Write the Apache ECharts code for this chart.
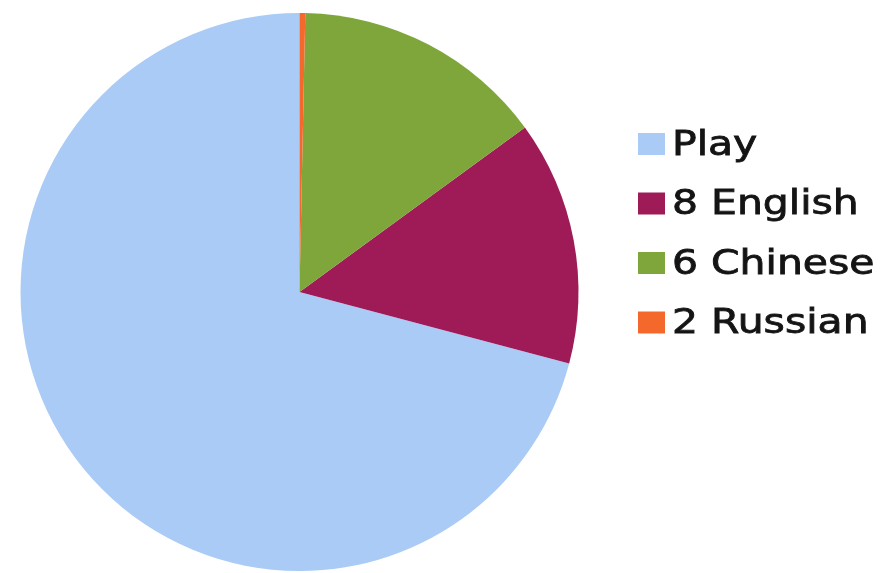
<!DOCTYPE html>
<html>
<head>
<meta charset="utf-8">
<style>
  html, body { margin: 0; padding: 0; background: #ffffff; }
  #chart { width: 884px; height: 573px; }
</style>
<script src="https://cdn.jsdelivr.net/npm/echarts@6/dist/echarts.min.js"></script>
</head>
<body>
<div id="chart"></div>
<script>
// Share of time per activity (percent)
const categories = ['Play', '8 English', '6 Chinese', '2 Russian'];
const shares = [70.88, 14.16, 14.64, 0.33];
const colors = ['#aacbf5', '#9e1b58', '#7ea63a', '#f4682c'];

const chart = echarts.init(document.getElementById('chart'), null, { renderer: 'canvas' });

// Legend drawn as graphic items so the text can be widened horizontally
const legendLeft = 638;
const legendTop = 133;
const rowGap = 59.5;
const legendItems = [];
categories.forEach((name, i) => {
  const y = legendTop + i * rowGap;
  legendItems.push({
    type: 'rect',
    shape: { x: legendLeft, y: y, width: 27, height: 22 },
    style: { fill: colors[i] }
  });
  legendItems.push({
    type: 'text',
    x: 672,
    y: y + 13,
    scaleX: 1.24,
    scaleY: 1,
    style: {
      text: name,
      font: '33px "DejaVu Sans"',
      fill: '#141414',
      stroke: '#141414',
      lineWidth: 0.8,
      verticalAlign: 'middle',
      align: 'left'
    }
  });
});

chart.setOption({
  backgroundColor: '#ffffff',
  animation: false,
  color: colors,
  series: [{
    type: 'pie',
    center: [299.5, 292],
    radius: 279,
    startAngle: 90,
    clockwise: false,
    avoidLabelOverlap: false,
    label: { show: false },
    labelLine: { show: false },
    emphasis: { disabled: true },
    itemStyle: { borderWidth: 0 },
    data: categories.map((name, i) => ({ name: name, value: shares[i] }))
  }],
  graphic: legendItems
});
</script>
</body>
</html>
